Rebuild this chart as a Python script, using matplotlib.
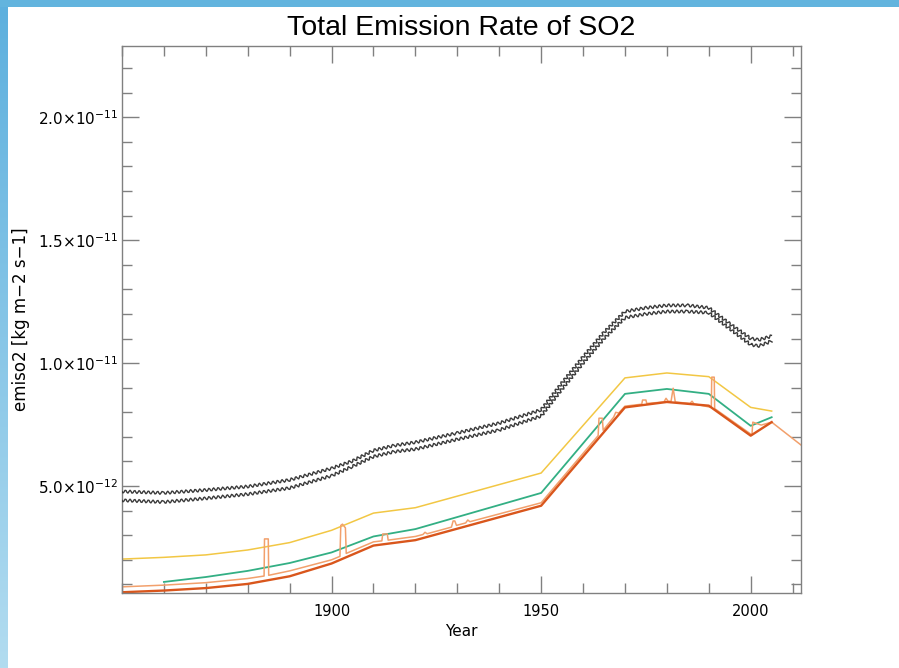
import numpy as np
import matplotlib
matplotlib.use('Agg')
import matplotlib.pyplot as plt
from matplotlib.ticker import FixedLocator, MultipleLocator
from matplotlib.patches import Rectangle
from matplotlib.colors import LinearSegmentedColormap

plt.rcParams['mathtext.default'] = 'regular'

UNIT = 1e-12

# ---- data (values in units of 1e-12 kg m-2 s-1) ----
blk_years = [1850, 1860, 1870, 1880, 1890, 1900, 1905, 1910, 1915, 1920, 1930, 1940,
             1950, 1955, 1960, 1965, 1970, 1975, 1980, 1985, 1990, 1995, 2000, 2002, 2005]
blk_upper = [4.78, 4.72, 4.84, 4.98, 5.25, 5.72, 6.02, 6.45, 6.65, 6.78, 7.16, 7.56,
             8.10, 9.20, 10.25, 11.25, 12.10, 12.25, 12.35, 12.35, 12.25, 11.60, 11.00, 10.95, 11.10]
blk_lower = [4.42, 4.35, 4.50, 4.67, 4.92, 5.42, 5.80, 6.20, 6.40, 6.50, 6.90, 7.28,
             7.85, 8.95, 10.00, 11.00, 11.85, 12.00, 12.10, 12.10, 12.05, 11.40, 10.75, 10.70, 10.90]

yel_years = [1850, 1860, 1870, 1880, 1890, 1900, 1910, 1920, 1950, 1970, 1980, 1990, 2000, 2005]
yel_vals = [2.03, 2.10, 2.20, 2.40, 2.70, 3.20, 3.90, 4.12, 5.53, 9.40, 9.60, 9.45, 8.20, 8.05]

grn_years = [1860, 1870, 1880, 1890, 1900, 1910, 1920, 1950, 1970, 1980, 1990, 2000, 2005]
grn_vals = [1.10, 1.30, 1.55, 1.87, 2.30, 2.95, 3.25, 4.72, 8.75, 8.95, 8.75, 7.45, 7.80]

red_years = [1850, 1860, 1870, 1880, 1890, 1900, 1910, 1920, 1950, 1970, 1980, 1990, 2000, 2005]
red_vals = [0.68, 0.75, 0.85, 1.02, 1.33, 1.85, 2.58, 2.80, 4.20, 8.20, 8.42, 8.27, 7.05, 7.60]

lo_years = [1850, 1860, 1870, 1880, 1883.9, 1884.0, 1884.9, 1885.0, 1890, 1900,
            1902.0, 1902.2, 1902.6, 1903.3, 1903.5, 1910, 1912.0, 1912.2, 1913.3, 1913.5,
            1920, 1921.8, 1922.3, 1922.8, 1928.6, 1929.0, 1929.4, 1929.8, 1932.0, 1932.5,
            1933.0, 1950, 1963.6, 1963.8, 1964.6, 1964.8, 1967.3, 1967.8, 1968.5, 1970,
            1974.0, 1974.2, 1975.0, 1975.2, 1979.3, 1979.8, 1980.3, 1981.0, 1981.5, 1982.0,
            1985.5, 1986.0, 1986.5, 1990.6, 1990.7, 1991.3, 1991.4, 2000.3, 2000.5, 2002.5,
            2005, 2012]
lo_vals = [0.90, 0.97, 1.07, 1.24, 1.34, 2.85, 2.85, 1.37, 1.55, 2.00,
           2.14, 3.40, 3.45, 3.30, 2.26, 2.73, 2.77, 3.05, 3.05, 2.80,
           2.95, 3.03, 3.12, 3.06, 3.33, 3.58, 3.58, 3.40, 3.50, 3.62,
           3.55, 4.32, 7.05, 7.76, 7.76, 7.27, 7.80, 8.00, 7.97, 8.25,
           8.33, 8.50, 8.50, 8.36, 8.42, 8.57, 8.45, 8.45, 8.98, 8.42,
           8.36, 8.45, 8.34, 8.20, 9.43, 9.43, 8.15, 7.08, 7.60, 7.48,
           7.60, 6.67]

title = 'Total Emission Rate of SO2'
xlabel = 'Year'
ylabel = 'emiso2 [kg m\u22122 s\u22121]'
xtick_vals = [1900, 1950, 2000]
xtick_labels = ['1900', '1950', '2000']
ytick_vals = [5.0, 10.0, 15.0, 20.0]
ytick_labels = [r'$5.0{\times}10^{-12}$', r'$1.0{\times}10^{-11}$',
                r'$1.5{\times}10^{-11}$', r'$2.0{\times}10^{-11}$']

# ---- figure ----
W, H = 899, 668
fig = plt.figure(figsize=(W / 100, H / 100), dpi=100)
fig.patch.set_facecolor('white')

# decorative blue frame (top bar and left gradient strip)
fig.patches.append(Rectangle((0, 1 - 7 / H), 1, 7 / H, transform=fig.transFigure,
                             facecolor='#62B4DE', edgecolor='none', zorder=0))
gax = fig.add_axes([0, 0, 8 / W, 1 - 7 / H])
grad = np.linspace(0, 1, 256).reshape(-1, 1)
cm = LinearSegmentedColormap.from_list('b', ['#5DB0DE', '#B2DCF0'])
gax.imshow(grad, aspect='auto', cmap=cm, origin='upper')
gax.set_axis_off()

L, R, B, T = 122, 801, 593, 46
ax = fig.add_axes([L / W, 1 - B / H, (R - L) / W, (B - T) / H])

def arr(v):
    return np.asarray(v) * UNIT

for ys in (blk_upper, blk_lower):
    ln, = ax.plot(blk_years, arr(ys), color='#3a3a3a', lw=1.0, zorder=3)
    ln.set_sketch_params(scale=1.5, length=4.6, randomness=1.0)

ax.plot(yel_years, arr(yel_vals), color='#F2C744', lw=1.1, zorder=2)
ax.plot(grn_years, arr(grn_vals), color='#33AF84', lw=1.3, zorder=2)
ax.plot(lo_years, arr(lo_vals), color='#F2A06C', lw=1.1, zorder=2)
ax.plot(red_years, arr(red_vals), color='#D9561C', lw=1.7, zorder=2)

ax.set_xlim(1850, 2012)
ax.set_ylim(0.65 * UNIT, 22.9 * UNIT)

ax.xaxis.set_major_locator(FixedLocator(xtick_vals))
ax.set_xticklabels(xtick_labels)
ax.xaxis.set_minor_locator(MultipleLocator(10))
ax.yaxis.set_major_locator(FixedLocator(arr(ytick_vals)))
ax.set_yticklabels(ytick_labels)
ax.yaxis.set_minor_locator(MultipleLocator(1 * UNIT))

spc = '#808080'
for s in ax.spines.values():
    s.set_color(spc)
    s.set_linewidth(1.0)
ax.tick_params(which='both', direction='in', top=True, right=True, color=spc, width=1.0)
ax.tick_params(which='major', length=12)
ax.tick_params(which='minor', length=7)
ax.tick_params(axis='x', which='major', labelsize=10.5, pad=8)
ax.tick_params(axis='y', which='major', labelsize=11, pad=3)

ax.set_title(title, fontsize=20.5, family='Liberation Sans', pad=8)
ax.set_xlabel(xlabel, fontsize=11)
ax.xaxis.set_label_coords(0.5, -(631 - B) / (B - T))
ax.xaxis.label.set_va('center')
ax.set_ylabel(ylabel, fontsize=12)
ax.yaxis.set_label_coords(-(L - 21) / (R - L), 0.5)
ax.yaxis.label.set_va('center')

fig.savefig('out.png', dpi=100)
